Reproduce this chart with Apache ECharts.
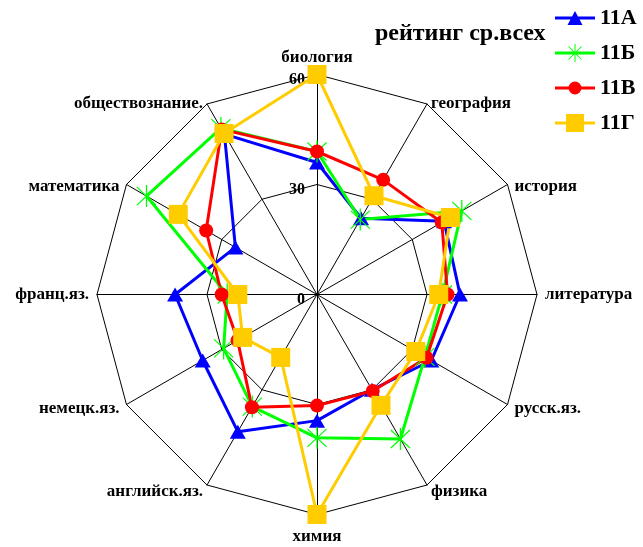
<!DOCTYPE html>
<html>
<head>
    <meta charset="utf-8">
    <script src="https://cdn.jsdelivr.net/npm/echarts@6/dist/echarts.min.js"></script>
</head>
<body style="margin: 0; background: #fff">
<div id="container" style="height: 547px; width: 643px;"></div>
<script>

// subjects, going clockwise from the top
var subjects = ['биология', 'география', 'история', 'литература', 'русск.яз.', 'физика',
                'химия', 'английск.яз.', 'немецк.яз.', 'франц.яз.', 'математика', 'обществознание.'];
var classNames = ['11А', '11Б', '11В', '11Г'];

// values, same order as subjects
var class11A = [36, 24, 40, 39, 36, 30, 34.4, 43.2, 36, 38.7, 25.7, 50.5];
var class11B = [39, 23.6, 45.6, 34.2, 34, 45.5, 39.1, 35.3, 29.4, 24.5, 53.7, 52.4];
var class11V = [39, 36.1, 39.3, 35.6, 34.5, 30.4, 30.3, 35.5, 25, 26, 34.9, 52];
var class11G = [60, 31.1, 42, 33.2, 31.1, 34.9, 60, 19.8, 23.4, 21.6, 43.7, 50.7];

var axisMax = 60;
var tickStep = 30;

var fontFamily = '"Liberation Serif", "Times New Roman", serif';
var colors = ['#0000ff', '#00ff00', '#ff0000', '#ffcc00'];

// asterisk marker (vertical bar + X), drawn as thin filled bars
var starPath = 'path://M9.4 0L10.6 0L10.6 22L9.4 22Z' +
    'M0.6 2.4L1.4 1.6L19.4 19.6L18.6 20.4Z' +
    'M18.6 1.6L19.4 2.4L1.4 20.4L0.6 19.6Z';

// legend icons: a short line with the marker in the middle (40x20 box)
var anchors = 'M0 0L0.01 0L0 0.01Z M40 20L39.99 20L40 19.99Z ';
var bar = 'M0 8.5L40 8.5L40 11.5L0 11.5Z ';
var legendIcons = [
    'path://' + anchors + bar + 'M12.5 17L20 3L27.5 17Z',
    'path://' + anchors + bar + 'M19.5 1L20.5 1L20.5 19L19.5 19Z' +
        'M13.15 3.85L13.85 3.15L26.85 16.15L26.15 16.85Z' +
        'M26.15 3.15L26.85 3.85L13.85 16.85L13.15 16.15Z',
    'path://' + anchors + bar + 'M13.5 10A6.5 6.5 0 1 1 26.5 10A6.5 6.5 0 1 1 13.5 10Z',
    'path://' + anchors + bar + 'M11 1L29 1L29 19L11 19Z'
];
var symbols = ['triangle', starPath, 'circle', 'rect'];
var symbolSizes = [[16, 14], [20, 22], 14, 19];

// echarts lays radar indicators out counter-clockwise, so reorder
function toRadarOrder(arr) {
    var res = [arr[0]];
    for (var i = arr.length - 1; i > 0; i--) {
        res.push(arr[i]);
    }
    return res;
}

// labels on the upper diagonals sit a bit lower in the original
var pushDown = ['география', 'история', 'математика', 'обществознание.'];
var lowerNames = ['химия'];

var dom = document.getElementById('container');
var myChart = echarts.init(dom, null, {renderer: 'canvas'});

var allValues = [class11A, class11B, class11V, class11G];
var seriesData = classNames.map(function (name, i) {
    return {
        name: name,
        value: toRadarOrder(allValues[i]),
        symbol: symbols[i],
        symbolSize: symbolSizes[i],
        lineStyle: {color: colors[i], width: 3},
        itemStyle: {color: colors[i], borderWidth: 0}
    };
});

var nameStyle = {fontSize: 17, fontWeight: 'bold', fontFamily: fontFamily, color: '#000'};
var tickStyle = {fontSize: 16, fontWeight: 'bold', fontFamily: fontFamily, color: '#000'};

var option = {
    animation: false,
    title: {
        text: 'рейтинг ср.всех',
        left: 375,
        top: 22,
        padding: 0,
        textStyle: {fontSize: 24, fontWeight: 'bold', fontFamily: fontFamily, color: '#000'}
    },
    legend: {
        orient: 'vertical',
        left: 555,
        top: 7,
        padding: 0,
        itemWidth: 40,
        itemHeight: 20,
        itemGap: 13,
        selectedMode: false,
        data: classNames.map(function (name, i) {
            return {name: name, icon: legendIcons[i], itemStyle: {color: colors[i]}};
        }),
        textStyle: {fontSize: 22, fontWeight: 'bold', fontFamily: fontFamily, color: '#000'}
    },
    radar: {
        center: [317, 294.5],
        radius: 220,
        startAngle: 90,
        shape: 'polygon',
        splitNumber: axisMax / tickStep,
        indicator: toRadarOrder(subjects).map(function (s) {
            return {name: s, min: 0, max: axisMax};
        }),
        nameGap: 8,
        axisName: {
            formatter: function (name) {
                if (pushDown.indexOf(name) >= 0) return '{d|' + name + '}';
                if (lowerNames.indexOf(name) >= 0) return '{h|' + name + '}';
                return '{n|' + name + '}';
            },
            rich: {
                n: nameStyle,
                d: Object.assign({padding: [13, 0, 0, 0]}, nameStyle),
                h: Object.assign({padding: [6, 0, 0, 0]}, nameStyle)
            }
        },
        axisLine: {lineStyle: {color: '#000', width: 1}},
        splitLine: {lineStyle: {color: '#000', width: 1}},
        splitArea: {show: false}
    },
    // polar system only used for the 0 / 30 / 60 labels on the top axis
    polar: {center: [317, 294.5], radius: 220},
    angleAxis: {show: false, startAngle: 90, min: 0, max: 360},
    radiusAxis: {
        min: 0,
        max: axisMax,
        interval: tickStep,
        axisLine: {show: false},
        axisTick: {show: false},
        splitLine: {show: false},
        axisLabel: {
            margin: 12,
            formatter: function (v) {
                return '{t|' + v + '}';
            },
            rich: {
                t: Object.assign({padding: [10, 0, 0, 0]}, tickStyle)
            }
        }
    },
    series: [{
        type: 'radar',
        data: seriesData
    }]
};

myChart.setOption(option);

</script>
</body>
</html>
